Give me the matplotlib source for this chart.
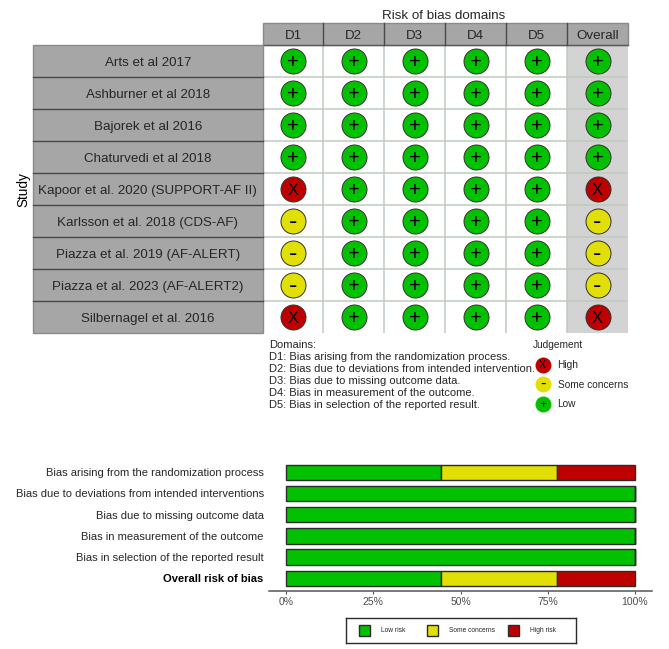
import matplotlib
matplotlib.use("Agg")
import matplotlib.pyplot as plt
from matplotlib.patches import Rectangle

plt.rcParams['font.family'] = ['Liberation Sans', 'DejaVu Sans']

studies = ["Arts et al 2017", "Ashburner et al 2018", "Bajorek et al 2016",
           "Chaturvedi et al 2018", "Kapoor et al. 2020 (SUPPORT-AF II)",
           "Karlsson et al. 2018 (CDS-AF)", "Piazza et al. 2019 (AF-ALERT)",
           "Piazza et al. 2023 (AF-ALERT2)", "Silbernagel et al. 2016"]
domains = ["D1", "D2", "D3", "D4", "D5", "Overall"]
d1 = ["L", "L", "L", "L", "H", "S", "S", "S", "H"]
d2 = ["L"] * 9
d3 = ["L"] * 9
d4 = ["L"] * 9
d5 = ["L"] * 9
overall = ["L", "L", "L", "L", "H", "S", "S", "S", "H"]
judgements = [d1, d2, d3, d4, d5, overall]

domain_notes = ["Domains:",
                "D1: Bias arising from the randomization process.",
                "D2: Bias due to deviations from intended intervention.",
                "D3: Bias due to missing outcome data.",
                "D4: Bias in measurement of the outcome.",
                "D5: Bias in selection of the reported result."]

bias_labels = ["Bias arising from the randomization process",
               "Bias due to deviations from intended interventions",
               "Bias due to missing outcome data",
               "Bias in measurement of the outcome",
               "Bias in selection of the reported result",
               "Overall risk of bias"]
low_pct = [44.44, 100, 100, 100, 100, 44.44]
some_pct = [33.33, 0, 0, 0, 0, 33.33]
high_pct = [22.22, 0, 0, 0, 0, 22.22]
pct_ticks = [0, 25, 50, 75, 100]

GREEN, YELLOW, RED = "#02C100", "#E2DF07", "#BF0000"
GREY, LIGHT, GRID = "#A6A6A6", "#D3D3D3", "#BFCBBF"
TXT = "#262626"
colors = {"L": GREEN, "S": YELLOW, "H": RED}
symbols = {"L": "+", "S": "-", "H": "X"}
# glyph size (pt) and height of glyph centre above the baseline (in em)
main_size = {"L": 14.5, "S": 18, "H": 12}
leg_size = {"L": 9, "S": 12, "H": 7.5}
lift = {"L": 0.34, "S": 0.32, "H": 0.345}

W, H = 669, 649
fig = plt.figure(figsize=(W / 100, H / 100), dpi=100)


def px_axes(x0, y0, x1, y1, **kw):
    return fig.add_axes([x0 / W, 1 - y1 / H, (x1 - x0) / W, (y1 - y0) / H], **kw)


def em_px(size):
    return size * 100 / 72


# ---- traffic-light grid
ROW = 32.0
ax = px_axes(262.5, 45, 628, 333)
ax.set_xlim(-0.5, 5.5)
ax.set_ylim(8.5, -0.5)
ax.axis("off")
ax.add_patch(Rectangle((4.5, -0.5), 1, 9, fc=LIGHT, ec="none", zorder=0))
for v in range(1, 6):
    ax.plot([v - 0.5, v - 0.5], [-0.5, 8.5], color=GRID, lw=1.1, zorder=1)
for h in range(1, 9):
    ax.plot([-0.5, 5.5], [h - 0.5, h - 0.5], color=GRID, lw=1.1, zorder=1)
for c, col in enumerate(judgements):
    for r, j in enumerate(col):
        ax.plot(c, r, "o", ms=18.0, mfc=colors[j], mec="#303030", mew=0.7, zorder=2)
        s = main_size[j]
        ax.text(c, r + lift[j] * em_px(s) / ROW, symbols[j], ha="center", va="baseline",
                fontsize=s, color="black", zorder=3)

# ---- column headers
hx = px_axes(262.5, 23, 628, 45)
hx.set_xlim(-0.5, 5.5)
hx.set_ylim(0, 1)
hx.axis("off")
hx.add_patch(Rectangle((-0.5, 0), 6, 1, fc=GREY, ec="#8A8A8A", lw=1.0, clip_on=False))
hx.plot([-0.5, 5.5], [0, 0], color="#5A5A5A", lw=1.0, clip_on=False)
for c, name in enumerate(domains):
    if c:
        hx.plot([c - 0.5, c - 0.5], [0, 1], color="#4A4A4A", lw=1.0, clip_on=False)
    hx.text(c, 0.29, name, ha="center", va="baseline", fontsize=9.6, color=TXT)
fig.text(444 / W, 1 - 19.2 / H, "Risk of bias domains", ha="center", va="baseline",
         fontsize=9.6, color=TXT)

# ---- study strip
sx = px_axes(33, 45, 262.5, 333)
sx.set_xlim(0, 1)
sx.set_ylim(8.5, -0.5)
sx.axis("off")
sx.add_patch(Rectangle((0, -0.5), 1, 9, fc=GREY, ec="#8A8A8A", lw=1.0, clip_on=False))
for r, name in enumerate(studies):
    if r:
        sx.plot([0, 1], [r - 0.5, r - 0.5], color="#484848", lw=1.0, clip_on=False)
    sx.text(0.5, r + 4.6 / ROW, name, ha="center", va="baseline", fontsize=9.6, color=TXT)
fig.text(23.5 / W, 1 - 189.5 / H, "Study", rotation=90, ha="center", va="center",
         fontsize=9.8, color="black")

# ---- notes and judgement legend
for i, line in enumerate(domain_notes):
    fig.text(269 / W, 1 - (348 + i * 12.1) / H, line, ha="left", va="baseline",
             fontsize=8.05, color=TXT)
fig.text(533 / W, 1 - 348.5 / H, "Judgement", ha="left", va="baseline", fontsize=7.25, color=TXT)
lg = px_axes(530, 355, 640, 413)
lg.set_xlim(530, 640)
lg.set_ylim(413, 355)
lg.axis("off")
for name, key, y in [("High", "H", 364.7), ("Some concerns", "S", 384), ("Low", "L", 403.5)]:
    lg.plot(542.7, y, "o", ms=11.5, mfc=colors[key], mec="none", clip_on=False)
    s = leg_size[key]
    lg.text(542.7, y + lift[key] * em_px(s), symbols[key], ha="center", va="baseline",
            fontsize=s, color="black")
    lg.text(557.5, y + 3.5, name, ha="left", va="baseline", fontsize=7.25, color=TXT, clip_on=False)

# ---- summary bar chart
bx = px_axes(269, 460, 652, 590.6)
ys = list(range(len(bias_labels)))
left_some = low_pct
left_high = [a + b for a, b in zip(low_pct, some_pct)]
kw = dict(height=0.72, edgecolor="#2B2B2B", linewidth=1.0, zorder=2)
bx.barh(ys, low_pct, color=GREEN, **kw)
bx.barh(ys, some_pct, left=left_some, color=YELLOW, **kw)
bx.barh(ys, high_pct, left=left_high, color=RED, **kw)
scale = (652 - 269) / (635 - 286) * 100
xmin = -(286 - 269) / (635 - 286) * 100
bx.set_xlim(xmin, xmin + scale)
bx.set_ylim(5.58, -0.58)
for s in ["top", "left", "right"]:
    bx.spines[s].set_visible(False)
bx.spines["bottom"].set_color("#555555")
bx.spines["bottom"].set_linewidth(1.1)
bx.set_xticks(pct_ticks)
bx.set_xticklabels([f"{t}%" for t in pct_ticks], fontsize=7.5, color="#4D4D4D")
bx.tick_params(axis="x", length=2.5, width=0.8, color="#555555", pad=2)
bx.set_yticks(ys)
bx.set_yticklabels(bias_labels, fontsize=8.05, color=TXT)
bx.tick_params(axis="y", length=0, pad=3.8)
lab = bx.get_yticklabels()[-1]
lab.set_fontweight("bold")
lab.set_color("black")

# ---- bar legend
fx = px_axes(346, 618, 575.5, 643)
fx.set_xlim(346, 575.5)
fx.set_ylim(643, 618)
fx.set_xticks([])
fx.set_yticks([])
for s in fx.spines.values():
    s.set_color("#2B2B2B")
    s.set_linewidth(1.0)
for x, name, color, tx in [(359.2, "Low risk", GREEN, 380.7), (427, "Some concerns", YELLOW, 448.7),
                           (508.3, "High risk", RED, 530)]:
    fx.add_patch(Rectangle((x, 625), 11, 11, fc=color, ec="#2B2B2B", lw=1.0))
    fx.text(tx, 632.5, name, ha="left", va="baseline", fontsize=4.8, color=TXT)

fig.savefig("out.png", dpi=100)
